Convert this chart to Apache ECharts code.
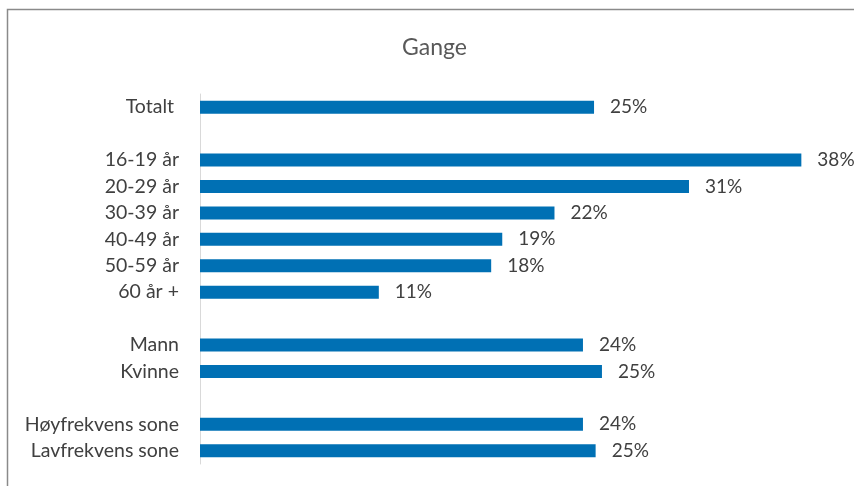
<!DOCTYPE html>
<html>
<head>
<meta charset="utf-8">
<script src="https://cdn.jsdelivr.net/npm/echarts@6/dist/echarts.min.js"></script>
<style>
  html, body { margin: 0; padding: 0; background: #fff; }
  #chart { width: 854px; height: 486px; }
</style>
</head>
<body>
<div id="chart"></div>
<script>
// kategorier (tomme plasser gir mellomrom mellom gruppene)
const categories = [
  "Totalt ", " ", "16-19 år", "20-29 år", "30-39 år", "40-49 år", "50-59 år", "60 år +",
  "  ", "Mann", "Kvinne", "   ", "Høyfrekvens sone", "Lavfrekvens sone"
];
const values = [24.9, null, 38.0, 30.9, 22.4, 19.1, 18.4, 11.3, null, 24.2, 25.4, null, 24.2, 25.0];

const chart = echarts.init(document.getElementById("chart"));
const font = "Lato, 'Open Sans', sans-serif";

chart.setOption({
  animation: false,
  title: {
    text: "Gange",
    left: 397,
    top: 31,
    textStyle: { fontSize: 23, fontWeight: "normal", color: "#595959", fontFamily: font },
  },
  graphic: [
    {
      type: "rect",
      shape: { x: 7.5, y: 9.5, width: 900, height: 520 },
      style: { fill: "none", stroke: "#8a8a8a", lineWidth: 1.5 },
      silent: true,
    },
  ],
  grid: { left: 200, right: 21, top: 94, bottom: 22 },
  xAxis: {
    type: "value",
    min: 0,
    max: 40,
    show: false,
  },
  yAxis: {
    type: "category",
    inverse: true,
    data: categories,
    axisLine: { lineStyle: { color: "#d9d9d9", width: 1 } },
    axisTick: { show: false },
    axisLabel: {
      margin: 21,
      fontSize: 19.5,
      color: "#404040",
      fontFamily: font,
      interval: 0,
    },
  },
  series: [
    {
      type: "bar",
      data: values,
      barWidth: 13,
      itemStyle: { color: "#0070b4" },
      label: {
        show: true,
        position: "right",
        distance: 16,
        fontSize: 19,
        color: "#404040",
        fontFamily: font,
        formatter: (p) => Math.round(p.value) + "%",
      },
    },
  ],
});
</script>
</body>
</html>
